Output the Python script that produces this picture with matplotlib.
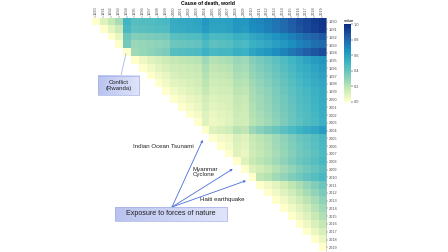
import numpy as np
import matplotlib
matplotlib.use("Agg")
import matplotlib.pyplot as plt
from matplotlib.colors import LinearSegmentedColormap
from matplotlib.patches import Rectangle

plt.rcParams['font.family'] = ['Liberation Sans', 'DejaVu Sans']

years = list(range(1990, 2020))

# each row starts at its own year (upper triangle)
r1990 = [0.00, 0.10, 0.17, 0.24, 0.50, 0.44, 0.45, 0.46, 0.47, 0.48,
         0.55, 0.56, 0.57, 0.58, 0.63, 0.59, 0.59, 0.60, 0.64, 0.63,
         0.68, 0.70, 0.73, 0.76, 0.80, 0.84, 0.88, 0.91, 0.94, 0.97]
r1991 = [0.00, 0.08, 0.15, 0.48, 0.42, 0.43, 0.44, 0.45, 0.46,
         0.54, 0.55, 0.56, 0.57, 0.62, 0.58, 0.58, 0.59, 0.63, 0.62,
         0.67, 0.69, 0.72, 0.75, 0.79, 0.83, 0.87, 0.90, 0.93, 0.96]
r1992 = [0.00, 0.07, 0.38, 0.32, 0.33, 0.34, 0.35, 0.36,
         0.43, 0.44, 0.45, 0.46, 0.52, 0.47, 0.48, 0.49, 0.53, 0.52,
         0.57, 0.59, 0.62, 0.65, 0.68, 0.72, 0.76, 0.79, 0.82, 0.85]
r1993 = [0.00, 0.36, 0.27, 0.28, 0.29, 0.30, 0.31,
         0.38, 0.39, 0.40, 0.41, 0.47, 0.42, 0.43, 0.44, 0.48, 0.47,
         0.52, 0.54, 0.57, 0.60, 0.63, 0.67, 0.71, 0.74, 0.77, 0.80]
r1994 = [0.00, 0.26, 0.28, 0.30, 0.32, 0.34,
         0.44, 0.45, 0.46, 0.47, 0.52, 0.48, 0.49, 0.49, 0.53, 0.52,
         0.58, 0.61, 0.64, 0.67, 0.71, 0.75, 0.79, 0.83, 0.86, 0.89]
r1995 = [0.00, 0.05, 0.09, 0.12, 0.15,
         0.17, 0.18, 0.19, 0.20, 0.26, 0.21, 0.22, 0.23, 0.27, 0.26,
         0.32, 0.35, 0.38, 0.42, 0.46, 0.50, 0.54, 0.58, 0.61, 0.64]
r1996 = [0.00, 0.04, 0.08, 0.11,
         0.14, 0.15, 0.16, 0.17, 0.23, 0.18, 0.19, 0.20, 0.25, 0.24,
         0.30, 0.33, 0.36, 0.40, 0.44, 0.48, 0.52, 0.55, 0.58, 0.61]
r1997 = [0.00, 0.04, 0.07,
         0.11, 0.13, 0.14, 0.15, 0.21, 0.16, 0.17, 0.18, 0.23, 0.22,
         0.28, 0.31, 0.34, 0.38, 0.42, 0.46, 0.50, 0.53, 0.56, 0.59]
r1998 = [0.00, 0.04,
         0.08, 0.10, 0.12, 0.13, 0.19, 0.14, 0.15, 0.16, 0.21, 0.20,
         0.26, 0.29, 0.32, 0.36, 0.40, 0.44, 0.48, 0.51, 0.54, 0.57]
r1999 = [0.00,
         0.04, 0.07, 0.09, 0.11, 0.17, 0.12, 0.13, 0.14, 0.19, 0.18,
         0.24, 0.27, 0.30, 0.34, 0.38, 0.42, 0.46, 0.49, 0.52, 0.55]
r2000 = [0.00, 0.03, 0.06, 0.08, 0.13, 0.10, 0.11, 0.12, 0.17, 0.16,
         0.23, 0.26, 0.29, 0.33, 0.37, 0.41, 0.45, 0.48, 0.51, 0.55]
r2001 = [0.00, 0.03, 0.06, 0.12, 0.08, 0.10, 0.11, 0.16, 0.15,
         0.22, 0.25, 0.28, 0.32, 0.36, 0.40, 0.44, 0.47, 0.50, 0.54]
r2002 = [0.00, 0.03, 0.10, 0.06, 0.08, 0.10, 0.15, 0.14,
         0.21, 0.24, 0.27, 0.31, 0.35, 0.39, 0.43, 0.46, 0.49, 0.53]
r2003 = [0.00, 0.09, 0.05, 0.07, 0.09, 0.14, 0.13,
         0.20, 0.23, 0.26, 0.30, 0.34, 0.38, 0.42, 0.45, 0.48, 0.52]
r2004 = [0.00, 0.10, 0.12, 0.14, 0.20, 0.18,
         0.27, 0.31, 0.35, 0.39, 0.43, 0.47, 0.51, 0.54, 0.57, 0.61]
r2005 = [0.00, 0.03, 0.05, 0.11, 0.09,
         0.16, 0.19, 0.22, 0.26, 0.30, 0.34, 0.38, 0.41, 0.44, 0.48]
r2006 = [0.00, 0.03, 0.10, 0.08,
         0.15, 0.18, 0.21, 0.25, 0.29, 0.33, 0.37, 0.40, 0.43, 0.47]
r2007 = [0.00, 0.09, 0.06,
         0.14, 0.17, 0.20, 0.24, 0.28, 0.32, 0.36, 0.39, 0.42, 0.46]
r2008 = [0.00, 0.09,
         0.16, 0.19, 0.22, 0.26, 0.30, 0.34, 0.38, 0.41, 0.44, 0.48]
r2009 = [0.00,
         0.10, 0.13, 0.17, 0.21, 0.25, 0.29, 0.33, 0.37, 0.40, 0.44]
r2010 = [0.00, 0.18, 0.21, 0.25, 0.29, 0.33, 0.37, 0.41, 0.44, 0.48]
r2011 = [0.00, 0.04, 0.08, 0.13, 0.18, 0.23, 0.28, 0.33, 0.38]
r2012 = [0.00, 0.04, 0.09, 0.14, 0.19, 0.24, 0.29, 0.34]
r2013 = [0.00, 0.04, 0.09, 0.14, 0.19, 0.24, 0.30]
r2014 = [0.00, 0.04, 0.09, 0.14, 0.20, 0.26]
r2015 = [0.00, 0.05, 0.10, 0.16, 0.22]
r2016 = [0.00, 0.05, 0.11, 0.17]
r2017 = [0.00, 0.06, 0.12]
r2018 = [0.00, 0.06]
r2019 = [0.00]

rows = [r1990, r1991, r1992, r1993, r1994, r1995, r1996, r1997, r1998, r1999,
        r2000, r2001, r2002, r2003, r2004, r2005, r2006, r2007, r2008, r2009,
        r2010, r2011, r2012, r2013, r2014, r2015, r2016, r2017, r2018, r2019]

n = len(years)
M = np.full((n, n), np.nan)
for i, row in enumerate(rows):
    M[i, i:i + len(row)] = row

cmap = LinearSegmentedColormap.from_list(
    'ylgnbu7', ['#ffffcc', '#c7e9b4', '#7fcdbb', '#41b6c4',
                '#1d91c0', '#225ea8', '#0c2c84'])

W, H = 448, 252
fig = plt.figure(figsize=(W / 100, H / 100), dpi=100)
ax = fig.add_axes([91.5 / W, 1 - 251.2 / H, 234.2 / W, 233.4 / H])
im = ax.imshow(M, cmap=cmap, vmin=0, vmax=1, aspect='auto',
               interpolation='nearest')

ax.set_xticks(range(n))
ax.set_xticklabels(years, rotation=90, fontsize=2.8, color='#4d4d4d')
ax.set_yticks(range(n))
ax.set_yticklabels(years, fontsize=2.8, color='#4d4d4d')
ax.xaxis.tick_top()
ax.yaxis.tick_right()
ax.tick_params(length=1.2, width=0.3, color='#555555', pad=1)
for s in ['top', 'left', 'bottom']:
    ax.spines[s].set_visible(False)
ax.spines['right'].set_color('#bbbbbb')
ax.spines['right'].set_linewidth(0.4)

fig.text(208 / W, 1 - 3 / H, 'Cause of death, world', ha='center',
         va='center', fontsize=3.7, fontweight='bold')

cax = fig.add_axes([344.3 / W, 1 - 101.7 / H, 6.7 / W, 77.4 / H])
cb = fig.colorbar(im, cax=cax, ticks=[0, 0.2, 0.4, 0.6, 0.8, 1.0])
cb.outline.set_visible(False)
cb.ax.set_yticklabels(['0.0', '0.2', '0.4', '0.6', '0.8', '1.0'])
cb.ax.tick_params(labelsize=2.8, length=1.2, width=0.3, pad=1,
                  labelcolor='#4d4d4d')
fig.text(344 / W, 1 - 20.5 / H, 'value', ha='left', va='center', fontsize=3.2)

# annotation layer in pixel coordinates
ann = fig.add_axes([0, 0, 1, 1], zorder=5)
ann.set_xlim(0, W)
ann.set_ylim(H, 0)
ann.axis('off')

grad = np.linspace(0, 1, 50).reshape(1, -1)
box_cmap = LinearSegmentedColormap.from_list('box', ['#b9c3ef', '#dfe4f9'])


def label_box(x0, y0, x1, y1, text, size):
    ann.imshow(grad, cmap=box_cmap, extent=(x0, x1, y1, y0), aspect='auto',
               zorder=2)
    ann.add_patch(Rectangle((x0, y0), x1 - x0, y1 - y0, fill=False,
                            edgecolor='#a4afe8', lw=0.5, zorder=3))
    ann.text((x0 + x1) / 2, (y0 + y1) / 2, text, ha='center', va='center',
             fontsize=size, color='#222222', linespacing=1.1, zorder=4)


ann.plot([121, 126], [75.5, 53.5], color='#a9b8ea', lw=0.6, zorder=1)
label_box(98.3, 75.7, 139.3, 95, 'Conflict\n(Rwanda)', 4.3)

origin = (172, 207)
for tip in [(202.7, 140), (232.7, 169), (246, 180.7)]:
    ann.annotate('', xy=tip, xytext=origin,
                 arrowprops=dict(arrowstyle='-|>', color='#4a6fd6', lw=0.6,
                                 mutation_scale=3, shrinkA=0, shrinkB=0),
                 zorder=1)
label_box(115, 206.7, 227.3, 220.7, 'Exposure to forces of nature', 5.1)

ann.text(133.3, 146, 'Indian Ocean Tsunami', ha='left', va='center',
         fontsize=4.4, color='#222222')
ann.text(192.3, 171.8, 'Myanmar\nCyclone', ha='left', va='center',
         fontsize=4.4, color='#222222', linespacing=1.15)
ann.text(200, 199.3, 'Haiti earthquake', ha='left', va='center',
         fontsize=4.4, color='#222222')

fig.savefig('out.png', dpi=100)
